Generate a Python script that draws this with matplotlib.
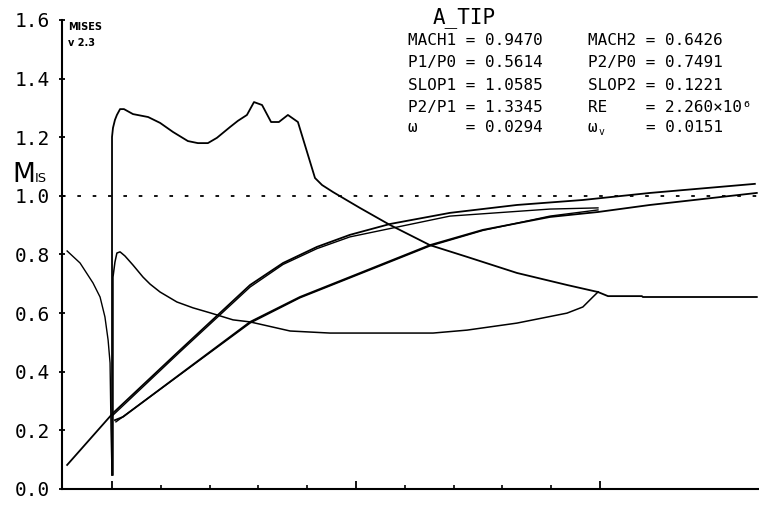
import matplotlib.pyplot as plt
from matplotlib.ticker import FixedLocator

# surface isentropic Mach number, x in chord units (LE = 0, TE ~ 2)
inlet_x = [-0.184, -0.131, -0.078, -0.049, -0.029, -0.016, -0.008, -0.004, 0.0]
inlet_m = [0.812, 0.771, 0.703, 0.655, 0.587, 0.508, 0.430, 0.20, 0.048]

suct_x = [0.0, 0.0, 0.004, 0.012, 0.020, 0.033, 0.049, 0.086, 0.148, 0.197, 0.250,
          0.311, 0.352, 0.393, 0.430, 0.484, 0.516, 0.553, 0.582, 0.615, 0.652,
          0.684, 0.721, 0.762, 0.832, 0.861, 0.906, 0.967, 1.016, 1.139, 1.303,
          1.455, 1.660, 1.865, 1.992]
suct_m = [0.048, 1.201, 1.232, 1.259, 1.276, 1.296, 1.296, 1.279, 1.269, 1.249, 1.218,
          1.187, 1.180, 1.180, 1.198, 1.235, 1.256, 1.276, 1.320, 1.310, 1.252,
          1.252, 1.276, 1.252, 1.061, 1.037, 1.013, 0.983, 0.959, 0.901, 0.832,
          0.792, 0.737, 0.696, 0.672]

wake_x = [1.992, 2.033, 2.172, 2.176, 2.643]
wake_m = [0.672, 0.658, 0.658, 0.655, 0.655]

pres_x = [0.004, 0.004, 0.004, 0.012, 0.020, 0.033, 0.053, 0.086, 0.127, 0.156, 0.197,
          0.266, 0.332, 0.402, 0.496, 0.566, 0.730, 0.893, 1.316, 1.455, 1.660,
          1.865, 1.930, 1.971, 1.992]
pres_m = [0.048, 0.372, 0.723, 0.774, 0.805, 0.809, 0.795, 0.764, 0.723, 0.699, 0.672,
          0.638, 0.618, 0.601, 0.577, 0.570, 0.539, 0.532, 0.532, 0.542, 0.566,
          0.600, 0.621, 0.655, 0.672]

# rising curves
up_x = [-0.184, 0.004, 0.279, 0.566, 0.701, 0.840, 0.975, 1.139, 1.385, 1.660, 1.930, 2.205, 2.635]
up_m = [0.082, 0.259, 0.474, 0.696, 0.771, 0.826, 0.867, 0.904, 0.942, 0.969, 0.986, 1.010, 1.041]
upc_x = [0.004, 0.279, 0.566, 0.701, 0.840, 0.975, 1.385, 1.795, 1.992]
upc_m = [0.252, 0.468, 0.689, 0.766, 0.820, 0.860, 0.931, 0.955, 0.959]
lo_x = [0.012, 0.045, 0.566, 0.770, 0.975, 1.303, 1.520, 1.795, 1.992, 2.205, 2.643]
lo_m = [0.235, 0.246, 0.570, 0.655, 0.723, 0.832, 0.884, 0.928, 0.945, 0.969, 1.010]
loc_x = [0.016, 0.566, 0.770, 0.975, 1.303, 1.520, 1.795, 1.992]
loc_m = [0.229, 0.566, 0.652, 0.720, 0.829, 0.882, 0.931, 0.952]

yticks = [0.0, 0.2, 0.4, 0.6, 0.8, 1.0, 1.2, 1.4, 1.6]
xmajor = [0.0, 1.0, 2.0]
xminor = [0.2, 0.4, 0.6, 0.8, 1.2, 1.4, 1.6, 1.8]

col1 = ["MACH1 = 0.9470", "P1/P0 = 0.5614", "SLOP1 = 1.0585", "P2/P1 = 1.3345", "ω     = 0.0294"]
col2 = ["MACH2 = 0.6426", "P2/P0 = 0.7491", "SLOP2 = 0.1221", "RE    = 2.260×10⁶", ""]

W, H = 759, 505
fig = plt.figure(figsize=(W / 100, H / 100), dpi=100)
ax = fig.add_axes([62 / W, 1 - 489 / H, 1 - 62 / W, (489 - 20) / H])

lw = 1.3
ax.plot(inlet_x, inlet_m, color='black', lw=1.0)
ax.plot(suct_x, suct_m, color='black', lw=lw)
ax.plot(wake_x, wake_m, color='black', lw=lw)
ax.plot(pres_x, pres_m, color='black', lw=1.1)
ax.plot(up_x, up_m, color='black', lw=lw)
ax.plot(upc_x, upc_m, color='black', lw=1.0)
ax.plot(lo_x, lo_m, color='black', lw=lw)
ax.plot(loc_x, loc_m, color='black', lw=1.0)
ax.axhline(1.0, color='black', lw=1.3, dashes=(2.0, 6.5))

ax.set_xlim(-0.205, 2.652)
ax.set_ylim(0, 1.6)
for s in ['top', 'right']:
    ax.spines[s].set_visible(False)
for s in ['left', 'bottom']:
    ax.spines[s].set_linewidth(1.5)

ax.set_yticks(yticks)
ax.set_yticklabels([f"{v:.1f}" for v in yticks], family='DejaVu Sans Mono', fontsize=14)
ax.tick_params(axis='y', direction='inout', length=5, width=1.3, pad=6)
ax.xaxis.set_major_locator(FixedLocator(xmajor))
ax.xaxis.set_minor_locator(FixedLocator(xminor))
ax.tick_params(axis='x', which='major', direction='in', length=6, width=1.3, labelbottom=False)
ax.tick_params(axis='x', which='minor', direction='in', length=3, width=1.2)

def fy(py):
    return 1 - py / H

fig.text(68 / W, fy(30), "MISES", fontsize=7, fontweight='bold', family='DejaVu Sans')
fig.text(68 / W, fy(46), "v 2.3", fontsize=7, fontweight='bold', family='DejaVu Sans')
fig.text(12 / W, fy(182), "M", fontsize=19, family='DejaVu Sans')
fig.text(35 / W, fy(182), "IS", fontsize=9.5, family='DejaVu Sans')

fig.text(433 / W, fy(23), "A_TIP", fontsize=15, family='DejaVu Sans Mono')
rows = [45, 67, 90, 112, 132]
for i in range(5):
    fig.text(408 / W, fy(rows[i]), col1[i], fontsize=11.5, family='DejaVu Sans Mono')
    if col2[i]:
        fig.text(588 / W, fy(rows[i]), col2[i], fontsize=11.5, family='DejaVu Sans Mono')
# omega_v row, pieces kept apart so the subscript sits cleanly
fig.text(588 / W, fy(132), "ω", fontsize=11.5, family='DejaVu Sans Mono')
fig.text(599 / W, fy(135), "v", fontsize=7, family='DejaVu Sans Mono')
fig.text(646 / W, fy(132), "= 0.0151", fontsize=11.5, family='DejaVu Sans Mono')

fig.savefig('out.png', dpi=100)
